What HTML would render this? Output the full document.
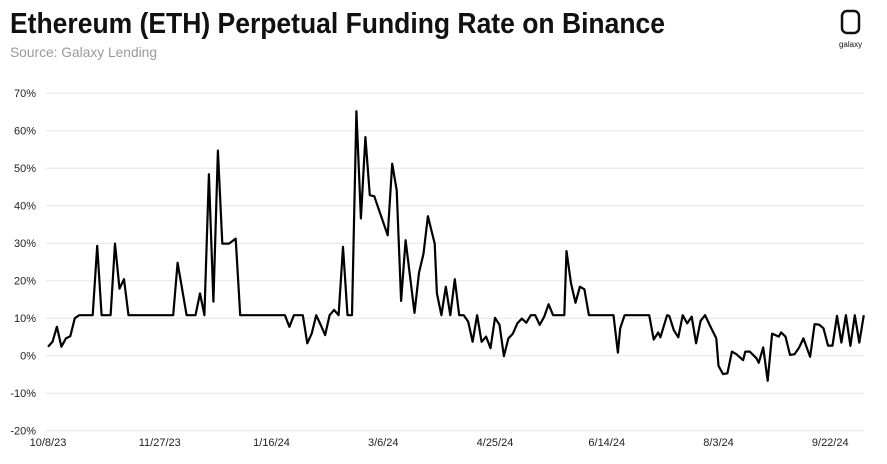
<!DOCTYPE html>
<html><head><meta charset="utf-8"><style>
body{margin:0;background:#fff;}
svg{display:block;font-family:"Liberation Sans",sans-serif;}
</style></head><body>
<svg id="chart" width="887" height="464" viewBox="0 0 887 464">
<text x="10" y="33" font-size="29" font-weight="bold" fill="#111" textLength="655" lengthAdjust="spacingAndGlyphs">Ethereum (ETH) Perpetual Funding Rate on Binance</text>
<text x="10" y="57" font-size="14" fill="#9a9a9a" textLength="147" lengthAdjust="spacingAndGlyphs">Source: Galaxy Lending</text>
<g>
<rect x="842" y="11" width="17" height="22" rx="5" fill="none" stroke="#111" stroke-width="2.5"/>
<text x="850.5" y="47" font-size="8" text-anchor="middle" fill="#111">galaxy</text>
</g>
<g id="grid"></g><g id="ylabels"></g><g id="xlabels"></g>
<path id="line" fill="none" stroke="#000" stroke-width="2.2" stroke-linejoin="round"/>
</svg>
<script>
const days=[0,2,4,6,8,10,12,14,20,22,24,28,30,32,34,36,56,58,62,66,68,70,72,74,76,78,81,84,86,106,108,110,114,116,118,120,122,124,126,128,130,132,134,136,138,140,142,144,146,152,154,156,158,160,164,166,168,170,
173,174,176,178,180,182,184,186,188,190,192,194,196,198,200,202,204,206,208,210,212,214,216,218,220,222,224,226,231,232,234,236,238,240,242,253,255,256,258,269,271,273,274,277,278,280,282,284,286,288,290,292,294,296,299,300,302,304,306,308,311,312,314,317,318,320,322,324,327,328,330,332,334,336,338,341,343,345,347,349,351,353,355,357,359,361,363,365];
const values=[2.4,3.7,7.7,2.4,4.6,5.2,10,10.8,10.8,29.3,10.8,10.8,29.9,17.9,20.4,10.8,10.8,24.8,10.8,10.8,16.6,10.8,48.4,14.4,54.7,29.9,29.9,31.2,10.8,10.8,7.7,10.8,10.8,3.3,5.9,10.8,8.2,5.5,10.8,12.2,10.8,29,10.8,10.8,65.2,36.6,58.3,42.8,42.5,32.1,51.2,44.1,14.6,30.8,11.4,22.1,27.2,37.2,
29.9,16.6,10.8,18.4,10.8,20.4,10.8,10.8,9.1,3.7,10.8,3.7,5.1,2.0,10.1,8.2,-0.1,4.6,5.9,8.6,9.9,8.8,10.8,10.8,8.2,10.4,13.7,10.8,10.8,27.9,19.3,14.1,18.4,17.7,10.8,10.8,0.8,7.3,10.8,10.8,4.3,6.2,4.9,10.8,10.6,6.8,4.9,10.8,8.6,10.4,3.3,9.3,10.8,8.2,4.6,-2.7,-4.9,-4.7,1.1,0.4,-1.2,1.1,1.1,-0.7,-1.9,2.2,-6.7,5.9,5.1,6.2,5.1,0.2,0.4,2.1,4.6,-0.3,8.4,8.3,7.3,2.7,2.7,10.6,3.5,10.8,2.6,10.8,3.5,10.8];
const yTicks=[70,60,50,40,30,20,10,0,-10,-20];
const xTickDays=[0,50,100,150,200,250,300,350];
const xTickLabels=["10/8/23","11/27/23","1/16/24","3/6/24","4/25/24","6/14/24","8/3/24","9/22/24"];
const NS="http://www.w3.org/2000/svg";
function xs(d){return 48+d*2.235;}
function ys(v){return 355.7-v*3.75;}
const grid=document.getElementById('grid'),yl=document.getElementById('ylabels'),xl=document.getElementById('xlabels');
yTicks.forEach(t=>{
 const l=document.createElementNS(NS,'line');
 l.setAttribute('x1',46);l.setAttribute('x2',864);l.setAttribute('y1',ys(t));l.setAttribute('y2',ys(t));
 l.setAttribute('stroke','#e6e6e6');l.setAttribute('stroke-width','1');
 
 
 grid.appendChild(l);
 const tx=document.createElementNS(NS,'text');
 tx.setAttribute('x',36);tx.setAttribute('y',ys(t)+4);tx.setAttribute('text-anchor','end');
 tx.setAttribute('font-size','11');tx.setAttribute('fill','#222');
 tx.textContent=t+'%';
 
 
 yl.appendChild(tx);
});
xTickDays.forEach((d,i)=>{
 const tx=document.createElementNS(NS,'text');
 tx.setAttribute('x',xs(d));tx.setAttribute('y',446);tx.setAttribute('text-anchor','middle');
 tx.setAttribute('font-size','11');tx.setAttribute('fill','#222');
 tx.textContent=xTickLabels[i];
 
 
 xl.appendChild(tx);
});
document.getElementById('line').setAttribute('d',days.map((d,i)=>(i?'L':'M')+xs(d).toFixed(1)+','+ys(values[i]).toFixed(1)).join(''));
</script>
</body></html>
